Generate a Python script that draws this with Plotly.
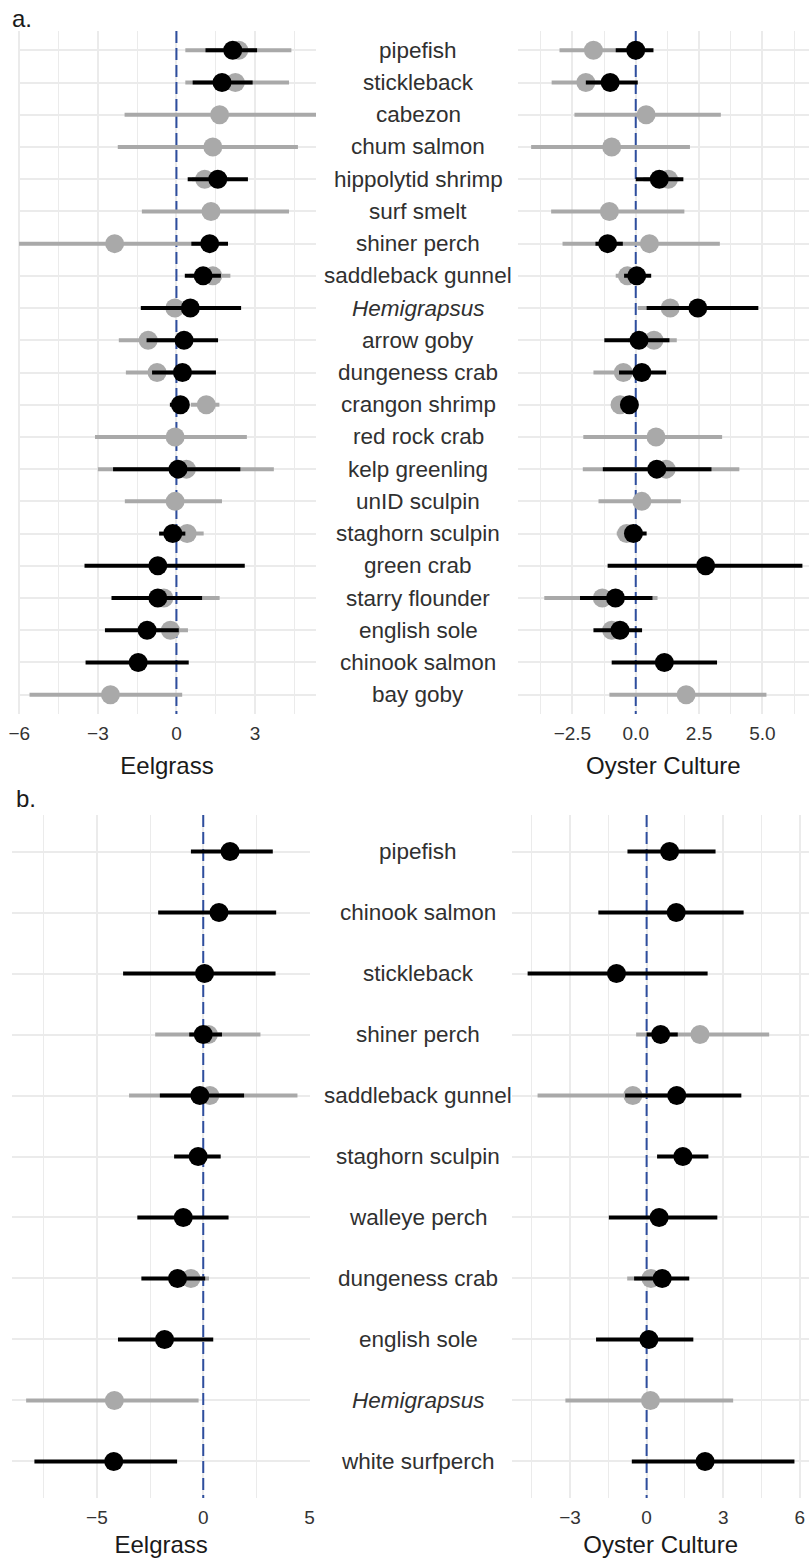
import plotly.graph_objects as go

# ---------------- Panel a data ----------------
species_a = ["pipefish", "stickleback", "cabezon", "chum salmon", "hippolytid shrimp",
             "surf smelt", "shiner perch", "saddleback gunnel", "<i>Hemigrapsus</i>",
             "arrow goby", "dungeness crab", "crangon shrimp", "red rock crab",
             "kelp greenling", "unID sculpin", "staghorn sculpin", "green crab",
             "starry flounder", "english sole", "chinook salmon", "bay goby"]

# Eelgrass, gray series
a_eel_gray_est = [2.38, 2.25, 1.65, 1.39, 1.08, 1.32, -2.36, 1.39, -0.06, -1.08, -0.74, 1.14,
                  -0.05, 0.38, -0.05, 0.41, None, -0.48, -0.23, None, -2.52]
a_eel_gray_lo = [0.34, 0.34, -1.98, -2.24, 0.60, -1.32, -6.01, 0.50, -0.50, -2.20, -1.93, 0.55,
                 -3.11, -3.00, -1.97, -0.30, None, -1.60, -0.90, None, -5.61]
a_eel_gray_hi = [4.39, 4.30, 5.40, 4.64, 2.00, 4.30, 1.20, 2.06, 0.60, 0.50, 0.40, 1.64,
                 2.69, 3.72, 1.74, 1.04, None, 1.65, 0.44, None, 0.22]
# Eelgrass, black series
a_eel_blk_est = [2.15, 1.74, None, None, 1.58, None, 1.27, 1.02, 0.53, 0.29, 0.23, 0.15,
                 None, 0.06, None, -0.14, -0.71, -0.71, -1.12, -1.46, None]
a_eel_blk_lo = [1.11, 0.62, None, None, 0.43, None, 0.57, 0.32, -1.36, -1.14, -0.93, -0.25,
                None, -2.42, None, -0.66, -3.51, -2.48, -2.73, -3.47, None]
a_eel_blk_hi = [3.08, 2.91, None, None, 2.73, None, 1.97, 1.70, 2.47, 1.59, 1.51, 0.40,
                None, 2.44, None, 0.34, 2.61, 0.98, 0.09, 0.47, None]

# Oyster culture, gray series
a_oys_gray_est = [-1.67, -1.97, 0.41, -0.95, 1.29, -1.04, 0.54, -0.33, 1.36, 0.72, -0.49, -0.62,
                  0.80, 1.20, 0.24, -0.36, None, -1.32, -0.95, None, 1.99]
a_oys_gray_lo = [-3.01, -3.32, -2.42, -4.13, 0.30, -3.34, -2.89, -0.79, 0.08, -0.30, -1.67, -0.85,
                 -2.07, -2.09, -1.47, -0.75, None, -3.61, -1.30, None, -1.04]
a_oys_gray_hi = [-0.30, -1.00, 3.36, 2.14, 1.70, 1.92, 3.32, 0.30, 2.50, 1.62, 0.20, -0.35,
                 3.41, 4.09, 1.78, 0.10, None, 0.86, -0.40, None, 5.16]
# Oyster culture, black series
a_oys_blk_est = [0.00, -1.01, None, None, 0.93, None, -1.11, 0.04, 2.45, 0.13, 0.24, -0.25,
                 None, 0.83, None, -0.09, 2.76, -0.80, -0.62, 1.13, None]
a_oys_blk_lo = [-0.79, -1.97, None, None, 0.00, None, -1.59, -0.46, 0.43, -1.24, -0.66, -0.50,
                None, -1.30, None, -0.40, -1.11, -2.20, -1.67, -0.95, None]
a_oys_blk_hi = [0.70, 0.08, None, None, 1.88, None, -0.51, 0.61, 4.84, 1.33, 1.20, 0.05,
                None, 2.99, None, 0.43, 6.58, 0.66, 0.25, 3.21, None]

# ---------------- Panel b data ----------------
species_b = ["pipefish", "chinook salmon", "stickleback", "shiner perch", "saddleback gunnel",
             "staghorn sculpin", "walleye perch", "dungeness crab", "english sole",
             "<i>Hemigrapsus</i>", "white surfperch"]

b_eel_gray_est = [None, None, None, 0.24, 0.31, None, None, -0.58, None, -4.18, None]
b_eel_gray_lo = [None, None, None, -2.26, -3.49, None, None, -1.50, None, -8.33, None]
b_eel_gray_hi = [None, None, None, 2.69, 4.43, None, None, 0.27, None, -0.22, None]
b_eel_blk_est = [1.26, 0.74, 0.06, 0.00, -0.16, -0.24, -0.94, -1.21, -1.82, None, -4.21]
b_eel_blk_lo = [-0.58, -2.12, -3.77, -0.66, -2.04, -1.37, -3.10, -2.91, -4.01, None, -7.94]
b_eel_blk_hi = [3.27, 3.43, 3.40, 0.88, 1.92, 0.82, 1.19, 0.09, 0.47, None, -1.23]

b_oys_gray_est = [None, None, None, 2.09, -0.54, None, None, 0.17, None, 0.15, None]
b_oys_gray_lo = [None, None, None, -0.41, -4.27, None, None, -0.76, None, -3.18, None]
b_oys_gray_hi = [None, None, None, 4.80, 1.50, None, None, 1.00, None, 3.39, None]
b_oys_blk_est = [0.90, 1.16, -1.18, 0.55, 1.18, 1.42, 0.49, 0.61, 0.09, None, 2.29]
b_oys_blk_lo = [-0.75, -1.89, -4.66, 0.00, -0.84, 0.41, -1.48, -0.49, -1.98, None, -0.58]
b_oys_blk_hi = [2.70, 3.80, 2.39, 1.22, 3.71, 2.42, 2.77, 1.67, 1.83, None, 5.79]

GRAY = "#A9A9A9"
BLACK = "#000000"
ZERO_BLUE = "#2E4E9E"
GRID = "#EBEBEB"
FONT = "Liberation Sans, Arial, Helvetica, sans-serif"
W, H = 809, 1558
PAD = 0.6  # discrete-axis expansion (rows)

fig = go.Figure()


def add_zero_line(n, xa, ya):
    fig.add_trace(go.Scatter(
        x=[0, 0], y=[-PAD, n - 1 + PAD], mode="lines", xaxis=xa, yaxis=ya,
        showlegend=False, hoverinfo="skip",
        line=dict(color=ZERO_BLUE, width=2, dash="12px,5px"),
    ))


def add_series(est, lo, hi, color, xa, ya):
    n = len(est)
    ys = list(range(n))
    xs, yy, plus, minus = [], [], [], []
    for i in range(n):
        if est[i] is None:
            continue
        xs.append(est[i])
        yy.append(ys[i])
        plus.append(hi[i] - est[i])
        minus.append(est[i] - lo[i])
    fig.add_trace(go.Scatter(
        x=xs, y=yy, mode="markers", xaxis=xa, yaxis=ya, showlegend=False,
        marker=dict(color=color, size=19, line=dict(width=0)),
        error_x=dict(type="data", symmetric=False, array=plus, arrayminus=minus,
                     thickness=4, width=0, color=color),
        cliponaxis=True,
    ))


add_zero_line(len(species_a), "x", "y")
add_series(a_eel_gray_est, a_eel_gray_lo, a_eel_gray_hi, GRAY, "x", "y")
add_series(a_eel_blk_est, a_eel_blk_lo, a_eel_blk_hi, BLACK, "x", "y")
add_zero_line(len(species_a), "x2", "y2")
add_series(a_oys_gray_est, a_oys_gray_lo, a_oys_gray_hi, GRAY, "x2", "y2")
add_series(a_oys_blk_est, a_oys_blk_lo, a_oys_blk_hi, BLACK, "x2", "y2")
add_zero_line(len(species_b), "x3", "y3")
add_series(b_eel_gray_est, b_eel_gray_lo, b_eel_gray_hi, GRAY, "x3", "y3")
add_series(b_eel_blk_est, b_eel_blk_lo, b_eel_blk_hi, BLACK, "x3", "y3")
add_zero_line(len(species_b), "x4", "y4")
add_series(b_oys_gray_est, b_oys_gray_lo, b_oys_gray_hi, GRAY, "x4", "y4")
add_series(b_oys_blk_est, b_oys_blk_lo, b_oys_blk_hi, BLACK, "x4", "y4")


def px_x(a, b):
    return [a / W, b / W]


def px_y(top, bottom):
    return [1 - bottom / H, 1 - top / H]


tickfont = dict(family=FONT, size=19, color="#333333")
titlefont = dict(family=FONT, size=24, color="#1A1A1A")


def xaxis(domain, rng, dtick, minor, anchor, title, fmt=None):
    d = dict(domain=domain, range=rng, anchor=anchor, tick0=0, dtick=dtick,
             showgrid=True, gridcolor=GRID, gridwidth=1.6, zeroline=False,
             showline=False, ticks="", tickfont=tickfont, ticklabelstandoff=6,
             automargin=False,
             minor=dict(tick0=0, dtick=minor, showgrid=True, gridcolor=GRID, gridwidth=0.9),
             title=dict(text=title, font=titlefont, standoff=14), fixedrange=True)
    if fmt:
        d["tickformat"] = fmt
    return d


def yaxis(domain, n, anchor):
    return dict(domain=domain, range=[n - 1 + PAD, -PAD], anchor=anchor,
                tickmode="array", tickvals=list(range(n)), showticklabels=False,
                showgrid=True, gridcolor=GRID, gridwidth=1.6, zeroline=False,
                showline=False, ticks="", fixedrange=True, automargin=False)


ya_dom = px_y(31, 714)
yb_dom = px_y(815, 1498)

fig.update_layout(
    width=W, height=H, margin=dict(l=0, r=0, t=0, b=0, autoexpand=False),
    paper_bgcolor="white", plot_bgcolor="white",
    font=dict(family=FONT),
    xaxis=xaxis(px_x(18, 316), [-6.05, 5.33], 3, 1.5, "y", "Eelgrass"),
    yaxis=yaxis(ya_dom, len(species_a), "x"),
    xaxis2=xaxis(px_x(517.7, 809), [-4.66, 6.84], 2.5, 1.25, "y2", "Oyster Culture", ".1f"),
    yaxis2=yaxis(ya_dom, len(species_a), "x2"),
    xaxis3=xaxis(px_x(12.3, 310), [-8.98, 5.02], 5, 2.5, "y3", "Eelgrass"),
    yaxis3=yaxis(yb_dom, len(species_b), "x3"),
    xaxis4=xaxis(px_x(512.3, 809), [-5.26, 6.36], 3, 1.5, "y4", "Oyster Culture"),
    yaxis4=yaxis(yb_dom, len(species_b), "x4"),
)

# species labels in the middle column
label_font = dict(family=FONT, size=22.5, color="#303030")
for i, s in enumerate(species_a):
    fig.add_annotation(x=418 / W, xref="paper", y=i, yref="y", text=s, showarrow=False,
                       xanchor="center", yanchor="middle", font=label_font)
for i, s in enumerate(species_b):
    fig.add_annotation(x=418 / W, xref="paper", y=i, yref="y3", text=s, showarrow=False,
                       xanchor="center", yanchor="middle", font=label_font)

# panel tags
tag_font = dict(family=FONT, size=24, color="#1A1A1A")
fig.add_annotation(x=10 / W, xref="paper", y=1 - 18 / H, yref="paper", text="a.",
                   showarrow=False, xanchor="left", yanchor="middle", font=tag_font)
fig.add_annotation(x=14 / W, xref="paper", y=1 - 798 / H, yref="paper", text="b.",
                   showarrow=False, xanchor="left", yanchor="middle", font=tag_font)

fig.write_html("out.html", config={"displayModeBar": False},
               post_script="document.body.style.margin='0px';document.body.style.overflow='hidden';")
